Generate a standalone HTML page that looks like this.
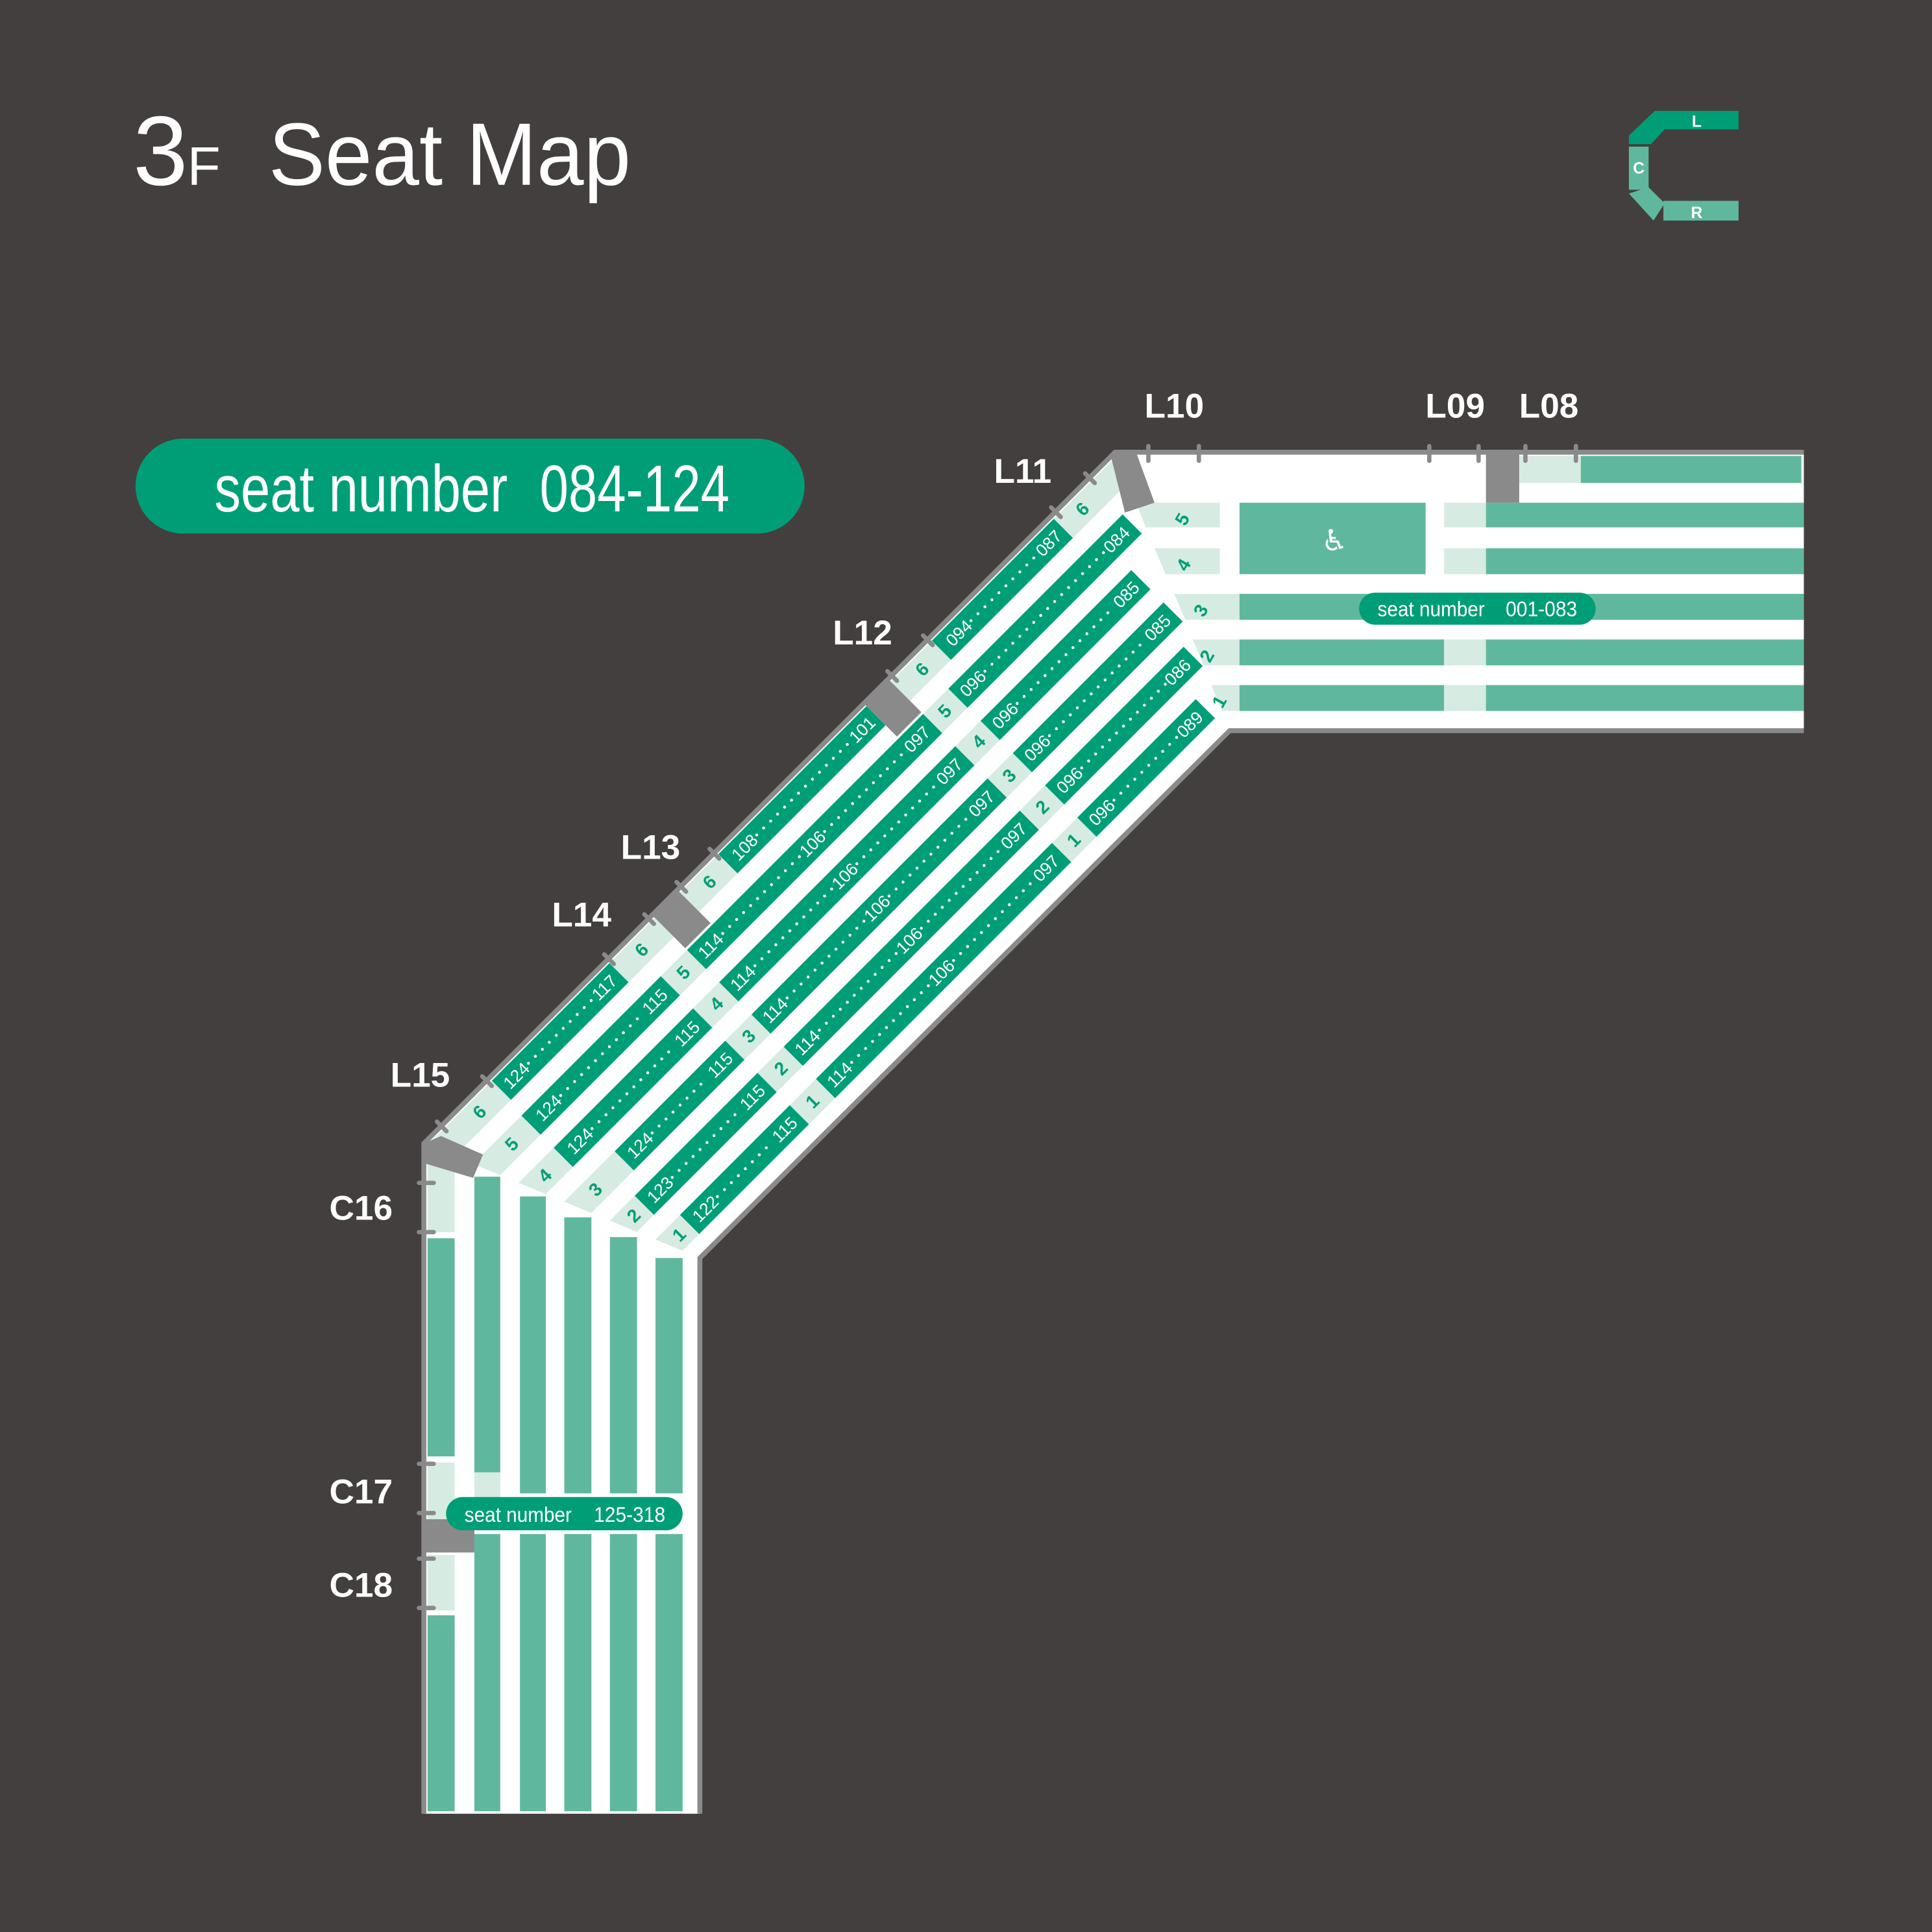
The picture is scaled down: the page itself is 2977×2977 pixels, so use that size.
<!DOCTYPE html>
<html><head><meta charset="utf-8"><style>
html,body{margin:0;padding:0;background:#433f3e;}
svg{display:block;}
.lt{fill:#d6ebe2}.gn{fill:#009e76}.md{fill:#5fb89e}.gy{fill:#8a8a8a}
.n{font-family:"Liberation Sans Narrow","Liberation Sans",sans-serif;font-size:14px;fill:#fff;text-anchor:middle;}
.r{font-family:"Liberation Sans Narrow","Liberation Sans",sans-serif;font-size:15px;font-weight:bold;fill:#009e76;text-anchor:middle;}
.d{stroke:#fff;stroke-width:2.4;stroke-linecap:round;stroke-dasharray:0 8;fill:none}
.lb{font-family:"Liberation Sans Narrow","Liberation Sans",sans-serif;font-size:28px;font-weight:bold;fill:#fff;text-anchor:middle;}
.tk{stroke:#8a8a8a;stroke-width:3.5;stroke-linecap:round}
</style></head><body>
<svg width="2977" height="2977" viewBox="0 0 1568 1568" xmlns="http://www.w3.org/2000/svg">
<defs>
<clipPath id="cd" clipPathUnits="userSpaceOnUse"><polygon points="344,928 905,367 998,593 568,1021"/></clipPath>
</defs>
<rect width="1568" height="1568" fill="#433f3e"/>

<!-- title -->
<text x="108" y="150" font-family="Liberation Sans Narrow,Liberation Sans,sans-serif" font-size="80" fill="#fff">3</text>
<text x="152" y="150" font-family="Liberation Sans,sans-serif" font-size="44" fill="#fff">F</text>
<text x="218" y="150" font-family="Liberation Sans,sans-serif" font-size="72" fill="#fff" textLength="294" lengthAdjust="spacingAndGlyphs">Seat Map</text>

<!-- pill -->
<rect x="110" y="356" width="543" height="77" rx="38.5" fill="#009e76"/>
<text x="174" y="415" font-family="Liberation Sans Narrow,Liberation Sans,sans-serif" font-size="54" fill="#fff" textLength="238" lengthAdjust="spacingAndGlyphs">seat number</text>
<text x="438" y="415" font-family="Liberation Sans Narrow,Liberation Sans,sans-serif" font-size="54" fill="#fff" textLength="154" lengthAdjust="spacingAndGlyphs">084-124</text>

<!-- logo -->
<polygon points="1322,110 1343,90 1351,90 1351,105 1340,117 1322,117" fill="#009e76"/>
<rect x="1350" y="90" width="61" height="15" fill="#009e76"/>
<rect x="1322" y="119" width="16" height="35" fill="#5fb89e"/>
<polygon points="1322,157 1338,152 1351,165 1342,179" fill="#5fb89e"/>
<rect x="1350" y="163" width="61" height="16" fill="#5fb89e"/>
<text x="1377" y="103" font-family="Liberation Sans,sans-serif" font-size="13" font-weight="bold" fill="#fff" text-anchor="middle">L</text>
<text x="1330" y="141" font-family="Liberation Sans,sans-serif" font-size="13" font-weight="bold" fill="#fff" text-anchor="middle">C</text>
<text x="1377" y="177" font-family="Liberation Sans,sans-serif" font-size="13" font-weight="bold" fill="#fff" text-anchor="middle">R</text>

<!-- venue white area -->
<polygon points="344,928 905,367 1464,367 1464,593 998,593 568,1021 568,1472 344,1472" fill="#fff"/>

<!-- horizontal section -->
<rect class="gy" x="1206" y="367" width="27" height="41"/>
<rect class="lt" x="1233" y="370" width="50" height="22"/>
<rect class="md" x="1283" y="370" width="179" height="22"/>
<polygon class="lt" points="922,408 990,408 990,428 930,428"/>
<polygon class="lt" points="937,445 990,445 990,466 946,466"/>
<polygon class="lt" points="953,482 1006,482 1006,503 962,503"/>
<polygon class="lt" points="968,519 1006,519 1006,540 977,540"/>
<polygon class="lt" points="983,556 1006,556 1006,577 992,577"/>
<text class="r" transform="translate(964,424) rotate(-60)">5</text>
<text class="r" transform="translate(965,461) rotate(-60)">4</text>
<text class="r" transform="translate(979,498) rotate(-60)">3</text>
<text class="r" transform="translate(984,535) rotate(-60)">2</text>
<text class="r" transform="translate(994,572) rotate(-60)">1</text>
<rect class="md" x="1006" y="408" width="151" height="58"/>
<text x="1083" y="447" font-family="DejaVu Sans,sans-serif" font-size="24" fill="#fff" text-anchor="middle">♿</text>
<rect class="lt" x="1172" y="408" width="34" height="20"/>
<rect class="lt" x="1172" y="445" width="34" height="21"/>
<rect class="md" x="1206" y="408" width="258" height="20"/>
<rect class="md" x="1206" y="445" width="258" height="21"/>
<rect class="md" x="1006" y="482" width="458" height="21"/>
<rect class="md" x="1006" y="519" width="166" height="21"/>
<rect class="lt" x="1172" y="519" width="34" height="21"/>
<rect class="md" x="1206" y="519" width="258" height="21"/>
<rect class="md" x="1006" y="556" width="166" height="21"/>
<rect class="lt" x="1172" y="556" width="34" height="21"/>
<rect class="md" x="1206" y="556" width="258" height="21"/>
<rect x="1103" y="481" width="192" height="26" rx="13" fill="#009e76"/>
<text x="1118" y="500" font-family="Liberation Sans Narrow,Liberation Sans,sans-serif" font-size="17" fill="#fff" textLength="87" lengthAdjust="spacingAndGlyphs">seat number</text>
<text x="1222" y="500" font-family="Liberation Sans Narrow,Liberation Sans,sans-serif" font-size="17" fill="#fff" textLength="58" lengthAdjust="spacingAndGlyphs">001-083</text>

<!-- diagonal section -->
<g clip-path="url(#cd)"><g transform="translate(344,928) rotate(-45)">
<rect class="lt" x="0" y="3" width="75" height="22"/><text class="r" x="50" y="19">6</text>
<rect class="gn" x="75" y="3" width="135" height="22"/><text class="n" x="92" y="19">124</text><line class="d" x1="106" y1="14" x2="180" y2="14"/><text class="n" x="193" y="19">117</text>
<rect class="lt" x="210" y="3" width="52" height="22"/><text class="r" x="236" y="19">6</text>
<rect class="lt" x="291" y="3" width="44" height="22"/><text class="r" x="314" y="19">6</text>
<rect class="gn" x="335" y="3" width="170" height="22"/><text class="n" x="354" y="19">108</text><line class="d" x1="368" y1="14" x2="476" y2="14"/><text class="n" x="489" y="19">101</text>
<rect class="lt" x="533" y="3" width="47" height="22"/><text class="r" x="558" y="19">6</text>
<rect class="gn" x="580" y="3" width="140" height="22"/><text class="n" x="600" y="19">094</text><line class="d" x1="614" y1="14" x2="690" y2="14"/><text class="n" x="703" y="19">087</text>
<rect class="lt" x="720" y="3" width="80" height="22"/><text class="r" x="742" y="19">6</text>
<rect class="gy" x="262" y="0" width="29" height="38"/>
<rect class="gy" x="505" y="0" width="28" height="38"/>
<rect class="lt" x="0" y="40" width="72" height="22"/><text class="r" x="50" y="56">5</text>
<rect class="gn" x="72" y="40" width="160" height="22"/><text class="n" x="92" y="56">124</text><line class="d" x1="106" y1="51" x2="201" y2="51"/><text class="n" x="214" y="56">115</text>
<rect class="lt" x="232" y="40" width="30" height="22"/><text class="r" x="247" y="56">5</text>
<rect class="gn" x="262" y="40" width="271" height="22"/><text class="n" x="278" y="56">114</text><line class="d" x1="292" y1="51" x2="381" y2="51"/><text class="n" x="395" y="56">106</text><line class="d" x1="409" y1="51" x2="501" y2="51"/><text class="n" x="515" y="56">097</text>
<rect class="lt" x="533" y="40" width="29" height="22"/><text class="r" x="547" y="56">5</text>
<rect class="gn" x="562" y="40" width="200" height="22"/><text class="n" x="579" y="56">096</text><line class="d" x1="593" y1="51" x2="731" y2="51"/><text class="n" x="744" y="56">084</text>
<rect class="lt" x="0" y="77" width="72" height="22"/><text class="r" x="51" y="93">4</text>
<rect class="gn" x="72" y="77" width="160" height="22"/><text class="n" x="91" y="93">124</text><line class="d" x1="105" y1="88" x2="201" y2="88"/><text class="n" x="214" y="93">115</text>
<rect class="lt" x="232" y="77" width="30" height="22"/><text class="r" x="248" y="93">4</text>
<rect class="gn" x="262" y="77" width="271" height="22"/><text class="n" x="278" y="93">114</text><line class="d" x1="292" y1="88" x2="381" y2="88"/><text class="n" x="395" y="93">106</text><line class="d" x1="409" y1="88" x2="501" y2="88"/><text class="n" x="515" y="93">097</text>
<rect class="lt" x="533" y="77" width="29" height="22"/><text class="r" x="549" y="93">4</text>
<rect class="gn" x="562" y="77" width="173" height="22"/><text class="n" x="579" y="93">096</text><line class="d" x1="593" y1="88" x2="705" y2="88"/><text class="n" x="718" y="93">085</text>
<rect class="lt" x="0" y="114" width="105" height="22"/><text class="r" x="72" y="130">3</text>
<rect class="gn" x="105" y="114" width="127" height="22"/><text class="n" x="123" y="130">124</text><line class="d" x1="137" y1="125" x2="201" y2="125"/><text class="n" x="215" y="130">115</text>
<rect class="lt" x="232" y="114" width="30" height="22"/><text class="r" x="248" y="130">3</text>
<rect class="gn" x="262" y="114" width="271" height="22"/><text class="n" x="278" y="130">114</text><line class="d" x1="292" y1="125" x2="381" y2="125"/><text class="n" x="395" y="130">106</text><line class="d" x1="409" y1="125" x2="501" y2="125"/><text class="n" x="515" y="130">097</text>
<rect class="lt" x="533" y="114" width="29" height="22"/><text class="r" x="547" y="130">3</text>
<rect class="gn" x="562" y="114" width="173" height="22"/><text class="n" x="579" y="130">096</text><line class="d" x1="593" y1="125" x2="704" y2="125"/><text class="n" x="717" y="130">085</text>
<rect class="lt" x="0" y="151" width="91" height="22"/><text class="r" x="79" y="167">2</text>
<rect class="gn" x="91" y="151" width="141" height="22"/><text class="n" x="109" y="167">123</text><line class="d" x1="123" y1="162" x2="201" y2="162"/><text class="n" x="215" y="167">115</text>
<rect class="lt" x="232" y="151" width="30" height="22"/><text class="r" x="248" y="167">2</text>
<rect class="gn" x="262" y="151" width="271" height="22"/><text class="n" x="278" y="167">114</text><line class="d" x1="292" y1="162" x2="381" y2="162"/><text class="n" x="395" y="167">106</text><line class="d" x1="409" y1="162" x2="501" y2="162"/><text class="n" x="515" y="167">097</text>
<rect class="lt" x="533" y="151" width="29" height="22"/><text class="r" x="548" y="167">2</text>
<rect class="gn" x="562" y="151" width="159" height="22"/><text class="n" x="579" y="167">096</text><line class="d" x1="593" y1="162" x2="690" y2="162"/><text class="n" x="703" y="167">086</text>
<rect class="lt" x="0" y="188" width="106" height="22"/><text class="r" x="94" y="204">1</text>
<rect class="gn" x="106" y="188" width="126" height="22"/><text class="n" x="124" y="204">122</text><line class="d" x1="138" y1="199" x2="201" y2="199"/><text class="n" x="215" y="204">115</text>
<rect class="lt" x="232" y="188" width="30" height="22"/><text class="r" x="247" y="204">1</text>
<rect class="gn" x="262" y="188" width="271" height="22"/><text class="n" x="278" y="204">114</text><line class="d" x1="292" y1="199" x2="381" y2="199"/><text class="n" x="395" y="204">106</text><line class="d" x1="409" y1="199" x2="501" y2="199"/><text class="n" x="515" y="204">097</text>
<rect class="lt" x="533" y="188" width="29" height="22"/><text class="r" x="547" y="204">1</text>
<rect class="gn" x="562" y="188" width="136" height="22"/><text class="n" x="579" y="204">096</text><line class="d" x1="593" y1="199" x2="667" y2="199"/><text class="n" x="680" y="204">089</text>
</g></g>

<!-- vertical section -->
<rect class="lt" x="347" y="944" width="22" height="56"/>
<rect class="md" x="347" y="1005" width="22" height="177"/>
<rect class="lt" x="347" y="1187" width="22" height="46"/>
<rect class="gy" x="344" y="1233" width="41" height="27"/>
<rect class="lt" x="347" y="1262" width="22" height="45"/>
<rect class="md" x="347" y="1311" width="22" height="159"/>
<rect class="md" x="385" y="955" width="21" height="240"/>
<rect class="lt" x="385" y="1195" width="21" height="40"/>
<rect class="md" x="385" y="1245" width="21" height="225"/>
<rect class="md" x="422" y="971" width="21" height="241"/>
<rect class="md" x="422" y="1245" width="21" height="225"/>
<rect class="md" x="458" y="988" width="22" height="224"/>
<rect class="md" x="458" y="1245" width="22" height="225"/>
<rect class="md" x="495" y="1004" width="22" height="208"/>
<rect class="md" x="495" y="1245" width="22" height="225"/>
<rect class="md" x="532" y="1021" width="22" height="191"/>
<rect class="md" x="532" y="1245" width="22" height="225"/>
<rect x="362" y="1215" width="192" height="27" rx="13.5" fill="#009e76"/>
<text x="377" y="1235" font-family="Liberation Sans Narrow,Liberation Sans,sans-serif" font-size="17" fill="#fff" textLength="87" lengthAdjust="spacingAndGlyphs">seat number</text>
<text x="482" y="1235" font-family="Liberation Sans Narrow,Liberation Sans,sans-serif" font-size="17" fill="#fff" textLength="58" lengthAdjust="spacingAndGlyphs">125-318</text>

<!-- gray corners -->
<polygon class="gy" points="905,367 922,367 937,408 913,416 902,372"/>
<polygon class="gy" points="344,928 358,922 392,937 384,956 344,944"/>

<!-- outlines -->
<polyline points="344,1472 344,928 905,367 1464,367" fill="none" stroke="#8a8a8a" stroke-width="4"/>
<polyline points="1464,593 998,593 568,1021 568,1472" fill="none" stroke="#8a8a8a" stroke-width="4"/>

<!-- ticks top -->
<line class="tk" x1="932" y1="362" x2="932" y2="374"/>
<line class="tk" x1="973" y1="362" x2="973" y2="374"/>
<line class="tk" x1="1160" y1="362" x2="1160" y2="374"/>
<line class="tk" x1="1200" y1="362" x2="1200" y2="374"/>
<line class="tk" x1="1238" y1="362" x2="1238" y2="374"/>
<line class="tk" x1="1279" y1="362" x2="1279" y2="374"/>
<!-- ticks left -->
<line class="tk" x1="340" y1="960" x2="352" y2="960"/>
<line class="tk" x1="340" y1="1000" x2="352" y2="1000"/>
<line class="tk" x1="340" y1="1188" x2="352" y2="1188"/>
<line class="tk" x1="340" y1="1228" x2="352" y2="1228"/>
<line class="tk" x1="340" y1="1265" x2="352" y2="1265"/>
<line class="tk" x1="340" y1="1305" x2="352" y2="1305"/>
<!-- ticks diagonal -->
<g transform="translate(344,928) rotate(-45)">
<line class="tk" x1="20" y1="-5" x2="20" y2="6"/>
<line class="tk" x1="72" y1="-5" x2="72" y2="6"/>
<line class="tk" x1="212" y1="-5" x2="212" y2="6"/>
<line class="tk" x1="258" y1="-5" x2="258" y2="6"/>
<line class="tk" x1="295" y1="-5" x2="295" y2="6"/>
<line class="tk" x1="333" y1="-5" x2="333" y2="6"/>
<line class="tk" x1="537" y1="-5" x2="537" y2="6"/>
<line class="tk" x1="578" y1="-5" x2="578" y2="6"/>
<line class="tk" x1="725" y1="-5" x2="725" y2="6"/>
<line class="tk" x1="764" y1="-5" x2="764" y2="6"/>
</g>

<!-- labels -->
<text class="lb" x="953" y="339">L10</text>
<text class="lb" x="1181" y="339">L09</text>
<text class="lb" x="1257" y="339">L08</text>
<text class="lb" x="830" y="392">L11</text>
<text class="lb" x="700" y="523">L12</text>
<text class="lb" x="528" y="697">L13</text>
<text class="lb" x="472" y="752">L14</text>
<text class="lb" x="341" y="882">L15</text>
<text class="lb" x="293" y="990">C16</text>
<text class="lb" x="293" y="1220">C17</text>
<text class="lb" x="293" y="1296">C18</text>
</svg>
</body></html>
